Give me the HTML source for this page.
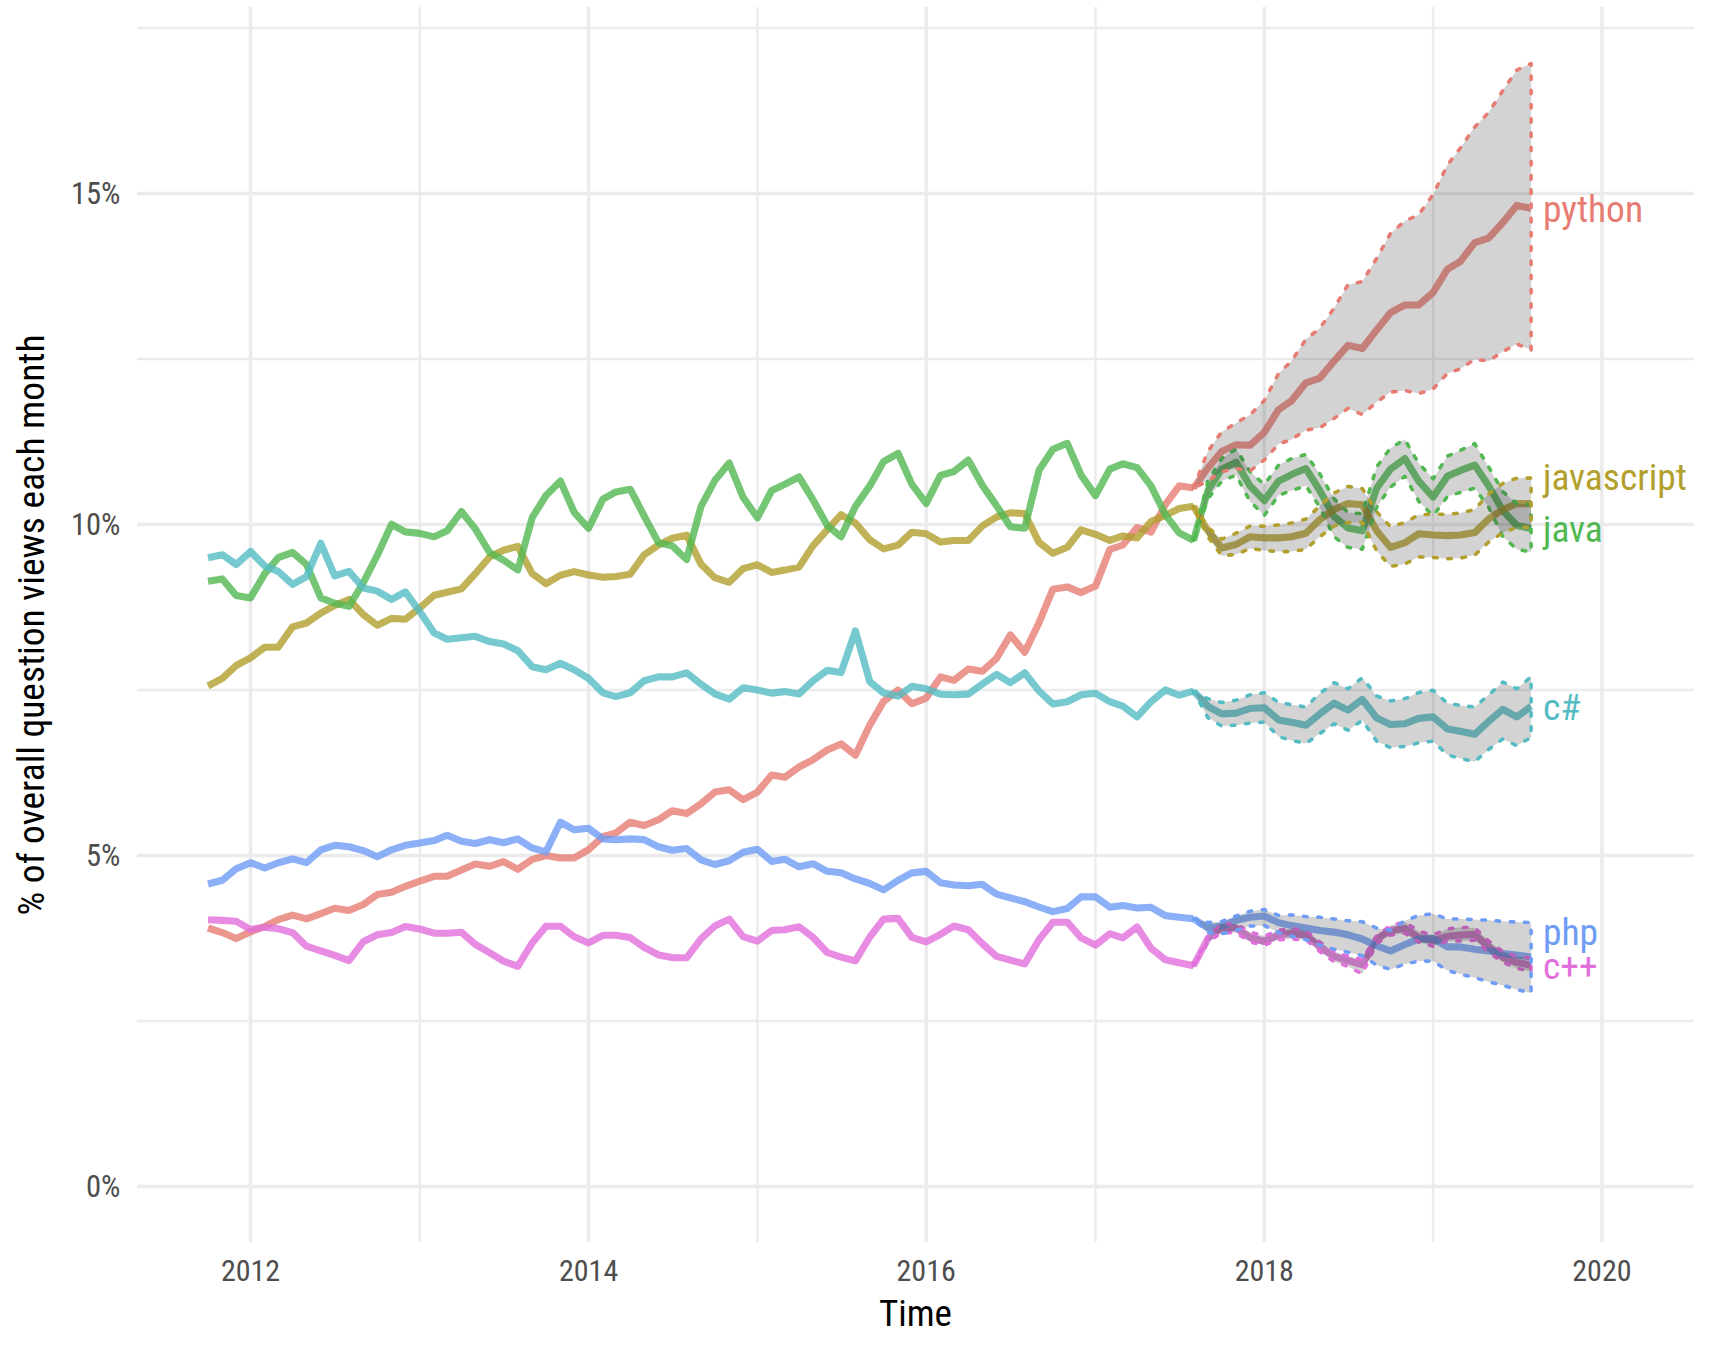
<!DOCTYPE html>
<html><head><meta charset="utf-8"><title>Question views over time</title>
<style>
html,body{margin:0;padding:0;background:#fff;}
svg{display:block;}
text{font-family:'Roboto Condensed','Liberation Sans',sans-serif;}
</style></head><body>
<svg width="1713" height="1350" viewBox="0 0 1713 1350">
<rect x="0" y="0" width="1713" height="1350" fill="#ffffff"/>
<g stroke="#ececec" stroke-width="2.4" fill="none"><line x1="419.8" y1="7" x2="419.8" y2="1242"/><line x1="757.4" y1="7" x2="757.4" y2="1242"/><line x1="1095.5" y1="7" x2="1095.5" y2="1242"/><line x1="1433.1" y1="7" x2="1433.1" y2="1242"/><line x1="137" y1="1021.0" x2="1694" y2="1021.0"/><line x1="137" y1="690.0" x2="1694" y2="690.0"/><line x1="137" y1="359.0" x2="1694" y2="359.0"/><line x1="137" y1="28.0" x2="1694" y2="28.0"/></g>
<g stroke="#ebebeb" stroke-width="3.4" fill="none"><line x1="250.5" y1="7" x2="250.5" y2="1242"/><line x1="588.6" y1="7" x2="588.6" y2="1242"/><line x1="926.2" y1="7" x2="926.2" y2="1242"/><line x1="1264.3" y1="7" x2="1264.3" y2="1242"/><line x1="1601.9" y1="7" x2="1601.9" y2="1242"/><line x1="137" y1="1186.5" x2="1694" y2="1186.5"/><line x1="137" y1="855.5" x2="1694" y2="855.5"/><line x1="137" y1="524.5" x2="1694" y2="524.5"/><line x1="137" y1="193.5" x2="1694" y2="193.5"/></g>
<g fill="#4d4d4d" font-size="30.6"><text x="120.5" y="1197.4" text-anchor="end" textLength="34.47" lengthAdjust="spacingAndGlyphs">0%</text><text x="120.5" y="866.4" text-anchor="end" textLength="34.47" lengthAdjust="spacingAndGlyphs">5%</text><text x="120.5" y="535.4" text-anchor="end" textLength="49.58" lengthAdjust="spacingAndGlyphs">10%</text><text x="120.5" y="204.4" text-anchor="end" textLength="49.58" lengthAdjust="spacingAndGlyphs">15%</text></g>
<g fill="#4d4d4d" font-size="30"><text x="250.5" y="1280.6" text-anchor="middle" textLength="59.25" lengthAdjust="spacingAndGlyphs">2012</text><text x="588.6" y="1280.6" text-anchor="middle" textLength="59.25" lengthAdjust="spacingAndGlyphs">2014</text><text x="926.2" y="1280.6" text-anchor="middle" textLength="59.25" lengthAdjust="spacingAndGlyphs">2016</text><text x="1264.3" y="1280.6" text-anchor="middle" textLength="59.25" lengthAdjust="spacingAndGlyphs">2018</text><text x="1601.9" y="1280.6" text-anchor="middle" textLength="59.25" lengthAdjust="spacingAndGlyphs">2020</text></g>
<text x="915.5" y="1325.9" text-anchor="middle" font-size="37" fill="#000" textLength="72.95" lengthAdjust="spacingAndGlyphs">Time</text>
<text transform="translate(44.4,625) rotate(-90)" x="0" y="0" text-anchor="middle" font-size="37" fill="#000" textLength="581" lengthAdjust="spacingAndGlyphs">% of overall question views each month</text>
<g fill="none" stroke-width="7.1" stroke-linejoin="round" stroke-linecap="butt" stroke-opacity="0.80"><polyline points="208.0,928.0 222.3,932.6 236.2,938.6 250.5,931.8 264.8,926.5 278.2,919.7 292.6,915.1 306.5,918.9 320.8,913.6 334.7,908.3 349.0,910.5 363.3,904.5 377.2,894.6 391.6,892.3 405.4,886.3 419.8,881.2 434.1,876.3 447.1,876.3 461.4,870.1 475.3,864.0 489.6,866.3 503.5,861.7 517.8,869.3 532.2,859.4 546.0,855.6 560.4,857.9 574.2,857.9 588.6,849.6 602.9,836.7 615.9,832.9 630.2,822.2 644.1,825.5 658.4,819.8 672.3,810.7 686.6,813.6 701.0,803.8 714.8,792.1 729.2,789.8 743.1,799.7 757.4,792.1 771.7,775.0 784.7,777.3 799.0,767.0 812.9,759.8 827.2,750.0 841.1,743.9 855.4,755.3 869.8,725.0 883.6,701.4 898.0,690.1 911.9,703.7 926.2,698.1 940.5,676.9 953.9,680.4 968.3,669.0 982.2,671.3 996.5,658.4 1010.4,634.9 1024.7,652.3 1039.0,622.7 1052.9,589.2 1067.3,586.9 1081.1,592.6 1095.5,586.1 1109.8,549.5 1122.8,545.0 1137.1,527.5 1151.0,532.1 1165.3,504.7 1179.2,485.8 1193.5,488.0" stroke="#e67c72"/><polyline points="208.0,686.0 222.3,678.4 236.2,665.5 250.5,657.9 264.8,647.2 278.2,647.2 292.6,626.8 306.5,623.0 320.8,613.1 334.7,605.5 349.0,599.4 363.3,614.6 377.2,625.2 391.6,618.4 405.4,619.2 419.8,607.8 434.1,595.3 447.1,592.3 461.4,588.9 475.3,573.7 489.6,557.0 503.5,550.2 517.8,546.4 532.2,573.7 546.0,583.6 560.4,575.2 574.2,571.6 588.6,575.0 602.9,577.2 615.9,576.5 630.2,574.2 644.1,554.9 658.4,545.0 672.3,538.3 686.6,535.2 701.0,564.1 714.8,577.7 729.2,582.3 743.1,568.6 757.4,564.8 771.7,572.4 784.7,570.1 799.0,567.1 812.9,545.9 827.2,529.9 841.1,514.7 855.4,523.1 869.8,539.8 883.6,548.9 898.0,545.1 911.9,532.2 926.2,533.7 940.5,542.1 953.9,540.5 968.3,540.5 982.2,526.1 996.5,517.0 1010.4,512.8 1024.7,513.5 1039.0,542.4 1052.9,553.3 1067.3,547.2 1081.1,529.8 1095.5,534.3 1109.8,540.4 1122.8,535.9 1137.1,538.1 1151.0,521.4 1165.3,515.4 1179.2,508.5 1193.5,506.3" stroke="#b29f2e"/><polyline points="208.0,581.2 222.3,578.9 236.2,595.6 250.5,597.9 264.8,573.6 278.2,557.7 292.6,552.4 306.5,564.5 320.8,597.9 334.7,603.2 349.0,606.3 363.3,582.7 377.2,555.4 391.6,524.3 405.4,531.9 419.8,533.4 434.1,536.9 447.1,530.8 461.4,511.5 475.3,528.9 489.6,552.5 503.5,560.1 517.8,569.9 532.2,517.6 546.0,495.5 560.4,481.1 574.2,512.4 588.6,528.3 602.9,499.1 615.9,491.9 630.2,489.2 644.1,515.8 658.4,542.7 672.3,545.9 686.6,559.5 701.0,506.4 714.8,480.6 729.2,463.1 743.1,497.3 757.4,517.8 771.7,490.5 784.7,484.4 799.0,476.8 812.9,499.6 827.2,525.4 841.1,536.8 855.4,506.4 869.8,485.9 883.6,461.6 898.0,453.3 911.9,484.4 926.2,503.4 940.5,475.3 953.9,471.5 968.3,460.1 982.2,485.1 996.5,505.6 1010.4,526.8 1024.7,528.3 1039.0,470.3 1052.9,449.3 1067.3,443.3 1081.1,475.1 1095.5,495.6 1109.8,469.1 1122.8,463.8 1137.1,467.6 1151.0,485.8 1165.3,514.6 1179.2,532.8 1193.5,540.4" stroke="#51b852"/><polyline points="208.0,557.7 222.3,554.7 236.2,564.5 250.5,551.6 264.8,566.0 278.2,571.4 292.6,584.3 306.5,576.7 320.8,543.3 334.7,575.9 349.0,571.4 363.3,588.0 377.2,591.1 391.6,599.4 405.4,591.9 419.8,611.6 434.1,632.9 447.1,639.2 461.4,637.8 475.3,636.3 489.6,641.6 503.5,643.9 517.8,650.7 532.2,666.7 546.0,669.7 560.4,663.3 574.2,669.7 588.6,678.4 602.9,692.8 615.9,696.6 630.2,692.8 644.1,680.7 658.4,676.9 672.3,676.9 686.6,672.8 701.0,684.2 714.8,693.9 729.2,699.2 743.1,687.8 757.4,690.1 771.7,693.1 784.7,691.6 799.0,693.9 812.9,680.9 827.2,670.3 841.1,672.6 855.4,630.9 869.8,681.7 883.6,693.1 898.0,696.1 911.9,686.3 926.2,688.7 940.5,694.3 953.9,694.8 968.3,694.1 982.2,684.2 996.5,674.3 1010.4,682.7 1024.7,672.8 1039.0,691.0 1052.9,703.9 1067.3,701.7 1081.1,694.8 1095.5,693.3 1109.8,701.7 1122.8,706.2 1137.1,716.8 1151.0,701.7 1165.3,689.9 1179.2,695.2 1193.5,691.1" stroke="#54bcc2"/><polyline points="208.0,884.0 222.3,880.2 236.2,868.8 250.5,862.7 264.8,868.0 278.2,862.7 292.6,858.9 306.5,862.7 320.8,849.8 334.7,845.3 349.0,846.8 363.3,850.6 377.2,856.7 391.6,849.8 405.4,845.3 419.8,842.9 434.1,840.6 447.1,835.3 461.4,841.2 475.3,843.5 489.6,839.7 503.5,842.7 517.8,838.9 532.2,848.0 546.0,851.8 560.4,822.2 574.2,829.8 588.6,828.3 602.9,838.9 615.9,839.7 630.2,838.9 644.1,839.6 658.4,846.8 672.3,850.2 686.6,848.5 701.0,859.9 714.8,864.5 729.2,860.7 743.1,852.3 757.4,849.3 771.7,861.4 784.7,859.2 799.0,866.8 812.9,863.7 827.2,871.3 841.1,872.8 855.4,878.9 869.8,883.5 883.6,889.9 898.0,880.4 911.9,872.9 926.2,871.4 940.5,882.7 953.9,885.0 968.3,885.8 982.2,884.3 996.5,894.1 1010.4,897.9 1024.7,901.7 1039.0,907.0 1052.9,911.6 1067.3,908.5 1081.1,896.9 1095.5,896.9 1109.8,907.2 1122.8,905.6 1137.1,908.0 1151.0,907.3 1165.3,915.6 1179.2,917.2 1193.5,918.7" stroke="#6f9cf5"/><polyline points="208.0,919.7 222.3,920.4 236.2,921.2 250.5,929.5 264.8,927.2 278.2,928.8 292.6,932.6 306.5,946.2 320.8,950.8 334.7,955.3 349.0,960.6 363.3,941.7 377.2,934.8 391.6,932.6 405.4,926.5 419.8,929.0 434.1,933.2 447.1,933.2 461.4,932.3 475.3,944.4 489.6,952.8 503.5,961.1 517.8,966.4 532.2,942.9 546.0,926.2 560.4,926.2 574.2,936.8 588.6,942.9 602.9,935.3 615.9,935.3 630.2,937.6 644.1,947.3 658.4,954.9 672.3,957.6 686.6,957.8 701.0,938.9 714.8,926.0 729.2,919.1 743.1,936.6 757.4,941.1 771.7,930.5 784.7,929.7 799.0,926.7 812.9,937.3 827.2,952.5 841.1,957.1 855.4,960.9 869.8,937.0 883.6,919.1 898.0,918.4 911.9,937.4 926.2,941.9 940.5,934.3 953.9,926.0 968.3,929.8 982.2,943.5 996.5,956.4 1010.4,960.1 1024.7,963.9 1039.0,939.7 1052.9,922.2 1067.3,922.2 1081.1,937.9 1095.5,945.1 1109.8,933.7 1122.8,937.9 1137.1,927.0 1151.0,948.3 1165.3,959.7 1179.2,962.7 1193.5,965.7" stroke="#e16fdb"/><polyline points="1193.5,691.1 1207.9,706.3 1221.7,713.9 1236.1,713.1 1249.9,708.5 1264.3,707.8 1278.6,719.9 1291.6,722.2 1305.9,725.2 1319.8,713.9 1334.1,703.2 1348.0,710.1 1362.3,699.4 1376.7,718.0 1390.5,724.5 1404.9,723.7 1418.7,718.4 1433.1,716.9 1447.4,729.0 1460.4,731.3 1474.7,734.3 1488.6,721.4 1502.9,709.3 1516.8,716.9 1531.1,706.3" stroke="#54bcc2"/><polyline points="1193.5,965.7 1207.9,938.6 1221.7,927.3 1236.1,927.9 1249.9,937.4 1264.3,941.5 1278.6,935.0 1291.6,933.2 1305.9,935.0 1319.8,946.9 1334.1,956.3 1348.0,960.5 1362.3,964.9 1376.7,938.6 1390.5,930.3 1404.9,928.5 1418.7,937.4 1433.1,940.9 1447.4,936.2 1460.4,935.0 1474.7,934.4 1488.6,946.9 1502.9,957.5 1516.8,962.3 1531.1,965.2" stroke="#e16fdb"/><polyline points="1193.5,540.4 1207.9,490.5 1221.7,469.2 1236.1,462.1 1249.9,485.8 1264.3,500.6 1278.6,481.1 1291.6,474.6 1305.9,468.6 1319.8,490.5 1334.1,516.6 1348.0,527.9 1362.3,530.8 1376.7,488.2 1390.5,469.2 1404.9,458.6 1418.7,481.1 1433.1,497.1 1447.4,476.3 1460.4,470.4 1474.7,465.1 1488.6,485.8 1502.9,510.7 1516.8,525.5 1531.1,528.5" stroke="#51b852"/><polyline points="1193.5,506.3 1207.9,530.8 1221.7,548.0 1236.1,544.5 1249.9,536.8 1264.3,537.9 1278.6,537.9 1291.6,536.8 1305.9,533.2 1319.8,519.6 1334.1,509.5 1348.0,503.6 1362.3,504.8 1376.7,530.8 1390.5,547.4 1404.9,542.7 1418.7,533.8 1433.1,535.0 1447.4,535.6 1460.4,535.0 1474.7,532.6 1488.6,519.0 1502.9,509.5 1516.8,503.6 1531.1,503.6" stroke="#b29f2e"/><polyline points="1193.5,918.7 1207.9,927.9 1221.7,926.1 1236.1,920.2 1249.9,917.2 1264.3,916.0 1278.6,922.6 1291.6,925.6 1305.9,928.1 1319.8,930.5 1334.1,932.1 1348.0,934.8 1362.3,939.0 1376.7,945.7 1390.5,951.0 1404.9,944.5 1418.7,939.1 1433.1,938.6 1447.4,946.9 1460.4,946.9 1474.7,949.2 1488.6,951.0 1502.9,953.4 1516.8,955.1 1531.1,956.9" stroke="#6f9cf5"/><polyline points="1193.5,488.0 1207.9,468.0 1221.7,451.4 1236.1,444.7 1249.9,445.3 1264.3,432.3 1278.6,409.6 1291.6,400.8 1305.9,382.8 1319.8,378.1 1334.1,361.0 1348.0,345.4 1362.3,348.5 1376.7,329.9 1390.5,312.7 1404.9,305.0 1418.7,305.0 1433.1,292.5 1447.4,269.2 1460.4,261.4 1474.7,242.7 1488.6,238.1 1502.9,222.5 1516.8,205.4 1531.1,208.5" stroke="#e67c72"/></g>
<g><polygon points="1193.5,691.1 1207.9,698.7 1221.7,702.5 1236.1,700.2 1249.9,694.9 1264.3,692.6 1278.6,702.5 1291.6,704.7 1305.9,707.0 1319.8,693.4 1334.1,682.7 1348.0,688.8 1362.3,677.8 1376.7,696.0 1390.5,700.9 1404.9,698.7 1418.7,692.6 1433.1,690.3 1447.4,703.2 1460.4,705.5 1474.7,707.0 1488.6,694.9 1502.9,682.0 1516.8,688.8 1531.1,676.7 1531.1,737.4 1516.8,745.7 1502.9,738.9 1488.6,749.5 1474.7,761.7 1460.4,758.6 1447.4,754.8 1433.1,741.2 1418.7,742.7 1404.9,746.5 1390.5,747.6 1376.7,741.2 1362.3,720.3 1348.0,730.2 1334.1,723.7 1319.8,733.6 1305.9,743.5 1291.6,740.4 1278.6,736.6 1264.3,722.2 1249.9,723.0 1236.1,725.2 1221.7,726.0 1207.9,717.6 1193.5,691.1" fill="#232323" fill-opacity="0.2" stroke="none"/><polygon points="1193.5,691.1 1207.9,698.7 1221.7,702.5 1236.1,700.2 1249.9,694.9 1264.3,692.6 1278.6,702.5 1291.6,704.7 1305.9,707.0 1319.8,693.4 1334.1,682.7 1348.0,688.8 1362.3,677.8 1376.7,696.0 1390.5,700.9 1404.9,698.7 1418.7,692.6 1433.1,690.3 1447.4,703.2 1460.4,705.5 1474.7,707.0 1488.6,694.9 1502.9,682.0 1516.8,688.8 1531.1,676.7 1531.1,737.4 1516.8,745.7 1502.9,738.9 1488.6,749.5 1474.7,761.7 1460.4,758.6 1447.4,754.8 1433.1,741.2 1418.7,742.7 1404.9,746.5 1390.5,747.6 1376.7,741.2 1362.3,720.3 1348.0,730.2 1334.1,723.7 1319.8,733.6 1305.9,743.5 1291.6,740.4 1278.6,736.6 1264.3,722.2 1249.9,723.0 1236.1,725.2 1221.7,726.0 1207.9,717.6 1193.5,691.1" fill="none" stroke="#54bcc2" stroke-width="3.56" stroke-dasharray="3.56 10.67" stroke-linecap="round" stroke-linejoin="round"/><polygon points="1193.5,965.7 1207.9,936.2 1221.7,923.7 1236.1,924.3 1249.9,932.0 1264.3,936.2 1278.6,930.3 1291.6,928.5 1305.9,930.9 1319.8,942.1 1334.1,951.6 1348.0,956.3 1362.3,959.6 1376.7,935.6 1390.5,925.5 1404.9,922.0 1418.7,931.4 1433.1,935.0 1447.4,929.1 1460.4,927.3 1474.7,927.9 1488.6,940.9 1502.9,951.6 1516.8,956.3 1531.1,958.1 1531.1,971.7 1516.8,968.2 1502.9,962.3 1488.6,952.2 1474.7,940.3 1460.4,940.9 1447.4,940.9 1433.1,946.3 1418.7,942.1 1404.9,933.2 1390.5,935.0 1376.7,943.3 1362.3,974.0 1348.0,966.4 1334.1,961.7 1319.8,951.6 1305.9,939.7 1291.6,939.1 1278.6,939.7 1264.3,945.1 1249.9,942.1 1236.1,932.6 1221.7,932.6 1207.9,942.1 1193.5,965.7" fill="#232323" fill-opacity="0.2" stroke="none"/><polygon points="1193.5,965.7 1207.9,936.2 1221.7,923.7 1236.1,924.3 1249.9,932.0 1264.3,936.2 1278.6,930.3 1291.6,928.5 1305.9,930.9 1319.8,942.1 1334.1,951.6 1348.0,956.3 1362.3,959.6 1376.7,935.6 1390.5,925.5 1404.9,922.0 1418.7,931.4 1433.1,935.0 1447.4,929.1 1460.4,927.3 1474.7,927.9 1488.6,940.9 1502.9,951.6 1516.8,956.3 1531.1,958.1 1531.1,971.7 1516.8,968.2 1502.9,962.3 1488.6,952.2 1474.7,940.3 1460.4,940.9 1447.4,940.9 1433.1,946.3 1418.7,942.1 1404.9,933.2 1390.5,935.0 1376.7,943.3 1362.3,974.0 1348.0,966.4 1334.1,961.7 1319.8,951.6 1305.9,939.7 1291.6,939.1 1278.6,939.7 1264.3,945.1 1249.9,942.1 1236.1,932.6 1221.7,932.6 1207.9,942.1 1193.5,965.7" fill="none" stroke="#e16fdb" stroke-width="3.56" stroke-dasharray="3.56 10.67" stroke-linecap="round" stroke-linejoin="round"/><polygon points="1193.5,540.4 1207.9,481.1 1221.7,458.6 1236.1,449.1 1249.9,471.6 1264.3,484.6 1278.6,465.1 1291.6,458.6 1305.9,454.4 1319.8,474.0 1334.1,498.8 1348.0,512.5 1362.3,513.7 1376.7,466.9 1390.5,447.9 1404.9,439.6 1418.7,463.3 1433.1,478.7 1447.4,456.2 1460.4,450.3 1474.7,443.7 1488.6,466.9 1502.9,491.7 1516.8,503.6 1531.1,504.8 1531.1,552.2 1516.8,549.2 1502.9,536.8 1488.6,507.1 1474.7,488.2 1460.4,492.3 1447.4,496.5 1433.1,516.0 1418.7,501.2 1404.9,476.3 1390.5,487.0 1376.7,507.1 1362.3,549.2 1348.0,547.4 1334.1,536.8 1319.8,507.1 1305.9,485.8 1291.6,490.5 1278.6,495.3 1264.3,515.4 1249.9,501.2 1236.1,475.1 1221.7,481.1 1207.9,498.8 1193.5,540.4" fill="#232323" fill-opacity="0.2" stroke="none"/><polygon points="1193.5,540.4 1207.9,481.1 1221.7,458.6 1236.1,449.1 1249.9,471.6 1264.3,484.6 1278.6,465.1 1291.6,458.6 1305.9,454.4 1319.8,474.0 1334.1,498.8 1348.0,512.5 1362.3,513.7 1376.7,466.9 1390.5,447.9 1404.9,439.6 1418.7,463.3 1433.1,478.7 1447.4,456.2 1460.4,450.3 1474.7,443.7 1488.6,466.9 1502.9,491.7 1516.8,503.6 1531.1,504.8 1531.1,552.2 1516.8,549.2 1502.9,536.8 1488.6,507.1 1474.7,488.2 1460.4,492.3 1447.4,496.5 1433.1,516.0 1418.7,501.2 1404.9,476.3 1390.5,487.0 1376.7,507.1 1362.3,549.2 1348.0,547.4 1334.1,536.8 1319.8,507.1 1305.9,485.8 1291.6,490.5 1278.6,495.3 1264.3,515.4 1249.9,501.2 1236.1,475.1 1221.7,481.1 1207.9,498.8 1193.5,540.4" fill="none" stroke="#51b852" stroke-width="3.56" stroke-dasharray="3.56 10.67" stroke-linecap="round" stroke-linejoin="round"/><polygon points="1193.5,506.3 1207.9,527.3 1221.7,539.1 1236.1,533.2 1249.9,526.1 1264.3,526.1 1278.6,524.9 1291.6,523.1 1305.9,519.0 1319.8,506.0 1334.1,492.9 1348.0,486.4 1362.3,488.5 1376.7,511.9 1390.5,526.7 1404.9,522.5 1418.7,514.8 1433.1,514.2 1447.4,514.2 1460.4,513.1 1474.7,509.5 1488.6,494.1 1502.9,483.4 1516.8,478.1 1531.1,478.1 1531.1,527.3 1516.8,527.3 1502.9,532.6 1488.6,542.1 1474.7,555.1 1460.4,558.1 1447.4,558.7 1433.1,557.5 1418.7,556.9 1404.9,564.0 1390.5,566.4 1376.7,551.0 1362.3,522.2 1348.0,522.5 1334.1,526.1 1319.8,536.8 1305.9,549.2 1291.6,551.6 1278.6,551.6 1264.3,550.4 1249.9,548.6 1236.1,554.5 1221.7,555.7 1207.9,536.8 1193.5,506.3" fill="#232323" fill-opacity="0.2" stroke="none"/><polygon points="1193.5,506.3 1207.9,527.3 1221.7,539.1 1236.1,533.2 1249.9,526.1 1264.3,526.1 1278.6,524.9 1291.6,523.1 1305.9,519.0 1319.8,506.0 1334.1,492.9 1348.0,486.4 1362.3,488.5 1376.7,511.9 1390.5,526.7 1404.9,522.5 1418.7,514.8 1433.1,514.2 1447.4,514.2 1460.4,513.1 1474.7,509.5 1488.6,494.1 1502.9,483.4 1516.8,478.1 1531.1,478.1 1531.1,527.3 1516.8,527.3 1502.9,532.6 1488.6,542.1 1474.7,555.1 1460.4,558.1 1447.4,558.7 1433.1,557.5 1418.7,556.9 1404.9,564.0 1390.5,566.4 1376.7,551.0 1362.3,522.2 1348.0,522.5 1334.1,526.1 1319.8,536.8 1305.9,549.2 1291.6,551.6 1278.6,551.6 1264.3,550.4 1249.9,548.6 1236.1,554.5 1221.7,555.7 1207.9,536.8 1193.5,506.3" fill="none" stroke="#b29f2e" stroke-width="3.56" stroke-dasharray="3.56 10.67" stroke-linecap="round" stroke-linejoin="round"/><polygon points="1193.5,918.7 1207.9,922.6 1221.7,921.4 1236.1,916.0 1249.9,911.3 1264.3,909.5 1278.6,915.5 1291.6,914.9 1305.9,916.6 1319.8,917.2 1334.1,919.0 1348.0,920.8 1362.3,921.7 1376.7,928.2 1390.5,930.3 1404.9,920.8 1418.7,915.5 1433.1,913.7 1447.4,919.0 1460.4,919.0 1474.7,919.6 1488.6,920.2 1502.9,921.4 1516.8,922.0 1531.1,922.6 1531.1,993.1 1516.8,989.5 1502.9,985.4 1488.6,981.8 1474.7,977.7 1460.4,974.1 1447.4,970.5 1433.1,961.1 1418.7,961.1 1404.9,964.0 1390.5,969.4 1376.7,965.2 1362.3,955.7 1348.0,952.2 1334.1,949.2 1319.8,945.1 1305.9,939.7 1291.6,936.2 1278.6,932.6 1264.3,925.5 1249.9,926.1 1236.1,930.3 1221.7,933.8 1207.9,932.6 1193.5,918.7" fill="#232323" fill-opacity="0.2" stroke="none"/><polygon points="1193.5,918.7 1207.9,922.6 1221.7,921.4 1236.1,916.0 1249.9,911.3 1264.3,909.5 1278.6,915.5 1291.6,914.9 1305.9,916.6 1319.8,917.2 1334.1,919.0 1348.0,920.8 1362.3,921.7 1376.7,928.2 1390.5,930.3 1404.9,920.8 1418.7,915.5 1433.1,913.7 1447.4,919.0 1460.4,919.0 1474.7,919.6 1488.6,920.2 1502.9,921.4 1516.8,922.0 1531.1,922.6 1531.1,993.1 1516.8,989.5 1502.9,985.4 1488.6,981.8 1474.7,977.7 1460.4,974.1 1447.4,970.5 1433.1,961.1 1418.7,961.1 1404.9,964.0 1390.5,969.4 1376.7,965.2 1362.3,955.7 1348.0,952.2 1334.1,949.2 1319.8,945.1 1305.9,939.7 1291.6,936.2 1278.6,932.6 1264.3,925.5 1249.9,926.1 1236.1,930.3 1221.7,933.8 1207.9,932.6 1193.5,918.7" fill="none" stroke="#6f9cf5" stroke-width="3.56" stroke-dasharray="3.56 10.67" stroke-linecap="round" stroke-linejoin="round"/><polygon points="1193.5,488.0 1207.9,451.4 1221.7,431.9 1236.1,422.9 1249.9,414.9 1264.3,400.6 1278.6,373.4 1291.6,361.0 1305.9,339.2 1319.8,328.3 1334.1,308.1 1348.0,284.7 1362.3,281.6 1376.7,258.3 1390.5,233.4 1404.9,221.0 1418.7,214.7 1433.1,194.5 1447.4,165.0 1460.4,148.0 1474.7,127.0 1488.6,112.5 1502.9,90.5 1516.8,70.1 1531.1,63.5 1531.1,350.1 1516.8,343.9 1502.9,351.6 1488.6,361.0 1474.7,359.4 1460.4,368.8 1447.4,373.4 1433.1,389.0 1418.7,393.6 1404.9,390.5 1390.5,392.1 1376.7,402.1 1362.3,414.5 1348.0,408.4 1334.1,418.4 1319.8,427.8 1305.9,430.1 1291.6,439.4 1278.6,444.1 1264.3,460.0 1249.9,471.0 1236.1,468.6 1221.7,471.6 1207.9,481.1 1193.5,488.0" fill="#232323" fill-opacity="0.2" stroke="none"/><polygon points="1193.5,488.0 1207.9,451.4 1221.7,431.9 1236.1,422.9 1249.9,414.9 1264.3,400.6 1278.6,373.4 1291.6,361.0 1305.9,339.2 1319.8,328.3 1334.1,308.1 1348.0,284.7 1362.3,281.6 1376.7,258.3 1390.5,233.4 1404.9,221.0 1418.7,214.7 1433.1,194.5 1447.4,165.0 1460.4,148.0 1474.7,127.0 1488.6,112.5 1502.9,90.5 1516.8,70.1 1531.1,63.5 1531.1,350.1 1516.8,343.9 1502.9,351.6 1488.6,361.0 1474.7,359.4 1460.4,368.8 1447.4,373.4 1433.1,389.0 1418.7,393.6 1404.9,390.5 1390.5,392.1 1376.7,402.1 1362.3,414.5 1348.0,408.4 1334.1,418.4 1319.8,427.8 1305.9,430.1 1291.6,439.4 1278.6,444.1 1264.3,460.0 1249.9,471.0 1236.1,468.6 1221.7,471.6 1207.9,481.1 1193.5,488.0" fill="none" stroke="#e67c72" stroke-width="3.56" stroke-dasharray="3.56 10.67" stroke-linecap="round" stroke-linejoin="round"/></g>
<g font-size="37.5"><text x="1543" y="222.3" fill="#e67c72" textLength="100.11" lengthAdjust="spacingAndGlyphs">python</text><text x="1543" y="490.1" fill="#b29f2e" textLength="143.87" lengthAdjust="spacingAndGlyphs">javascript</text><text x="1543" y="542.3" fill="#51b852" textLength="59.83" lengthAdjust="spacingAndGlyphs">java</text><text x="1543" y="720.3" fill="#54bcc2" textLength="37.89" lengthAdjust="spacingAndGlyphs">c#</text><text x="1543" y="944.8" fill="#6f9cf5" textLength="55.11" lengthAdjust="spacingAndGlyphs">php</text><text x="1543" y="979.3" fill="#e16fdb" textLength="54.61" lengthAdjust="spacingAndGlyphs">c++</text></g>
</svg>
</body></html>
